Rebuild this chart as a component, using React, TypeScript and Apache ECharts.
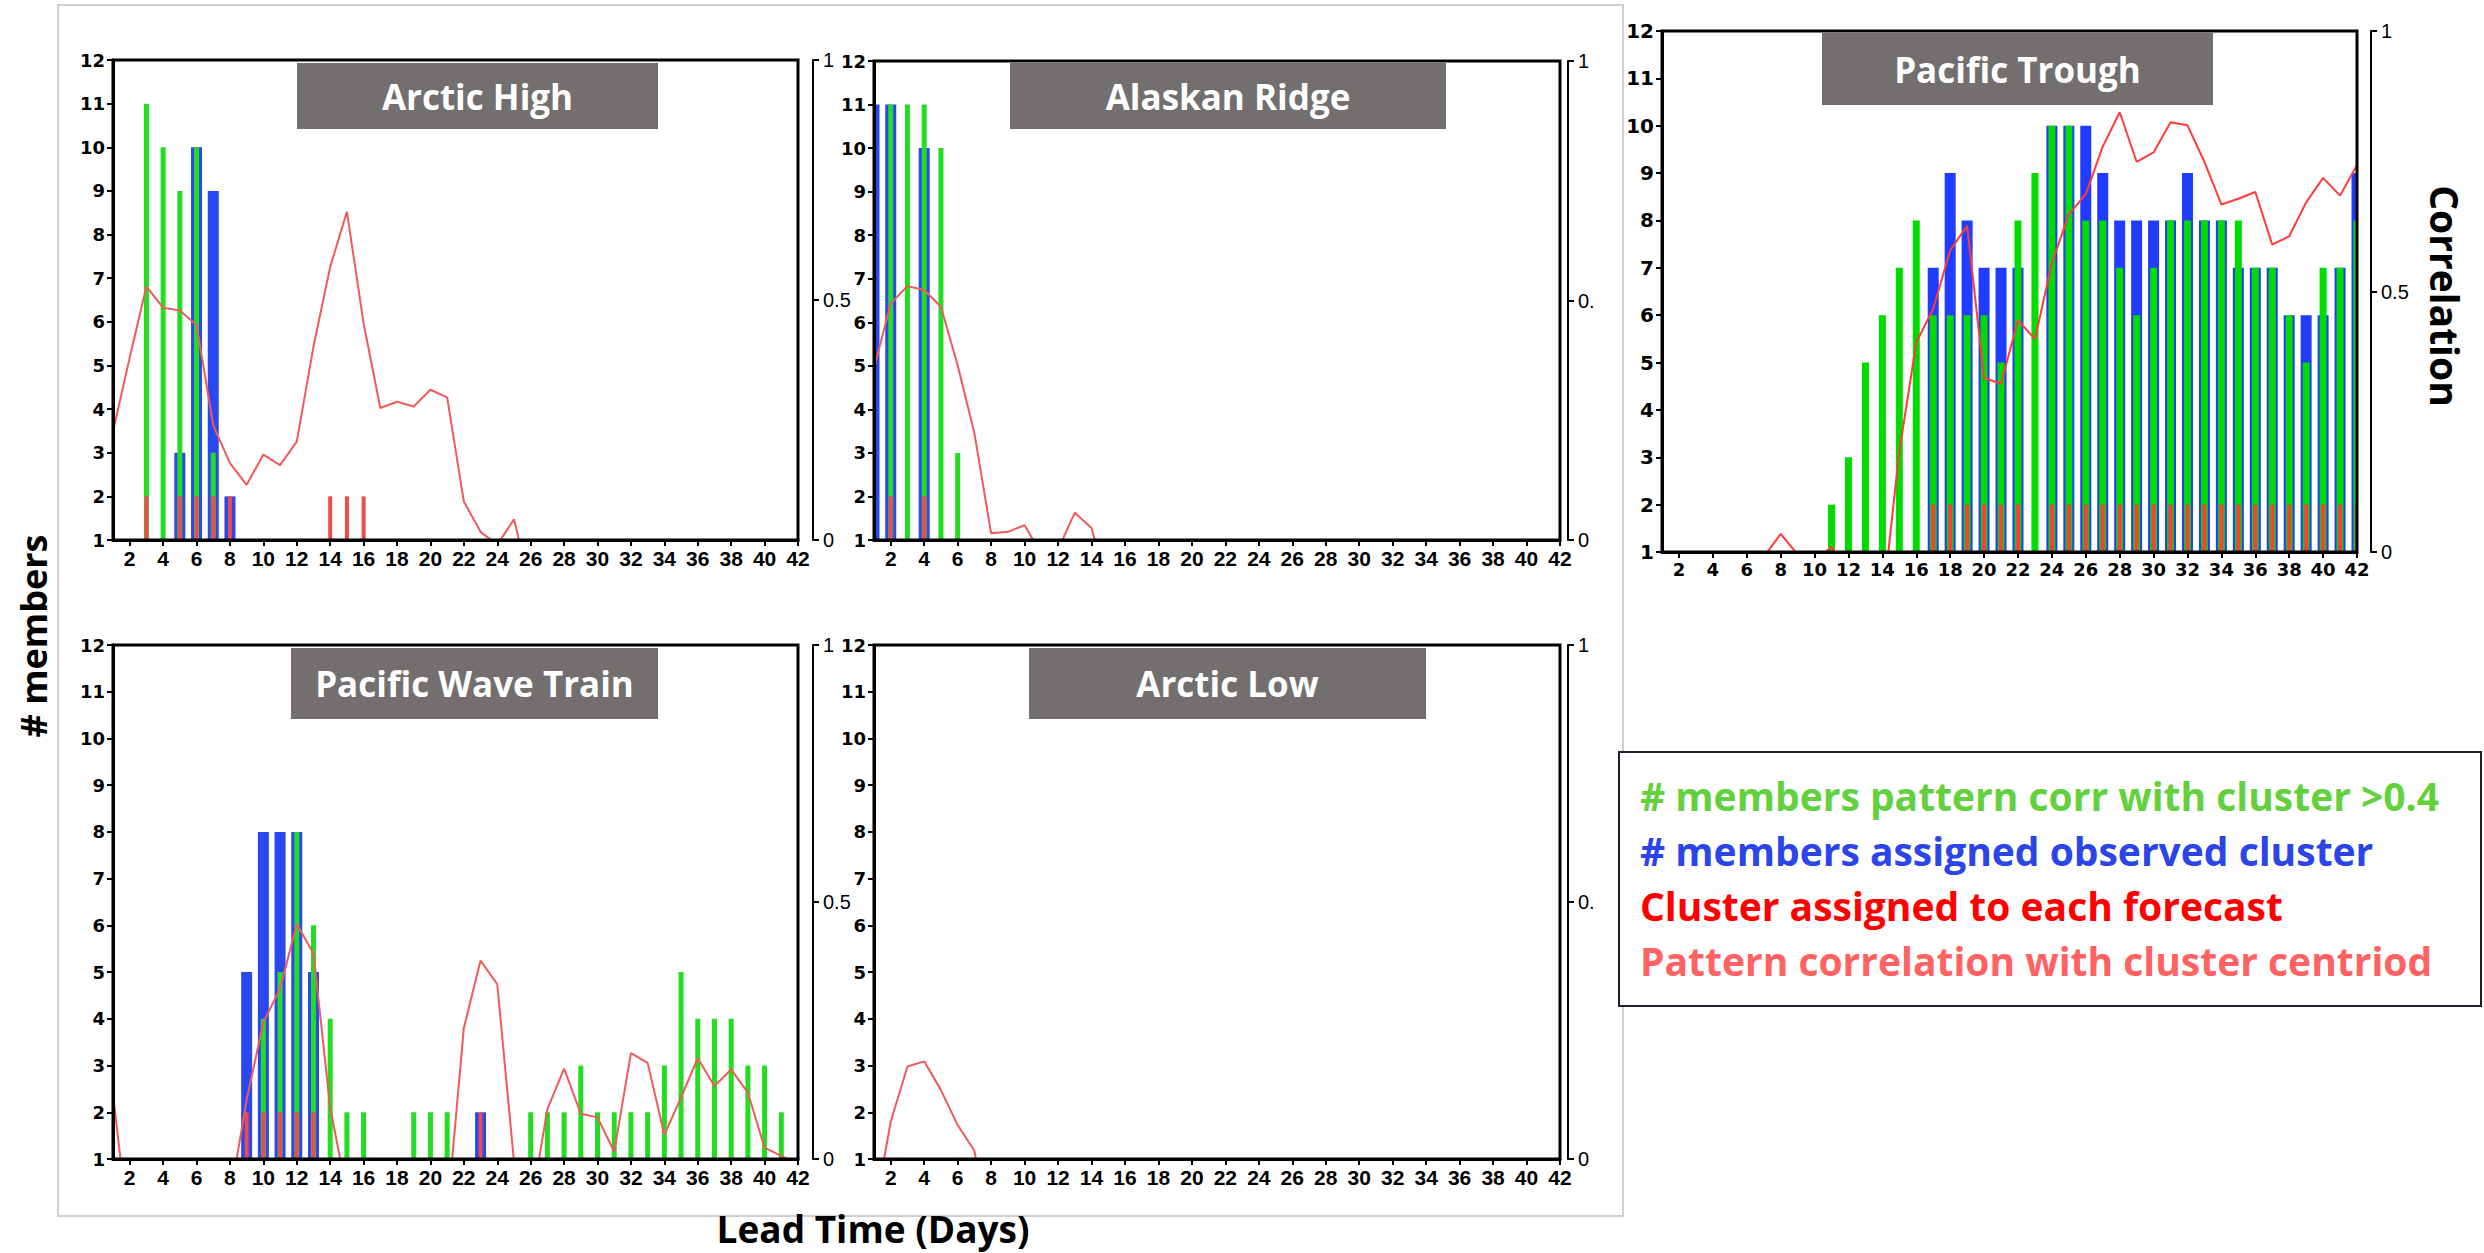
import { useEffect, useRef } from 'react';
import * as echarts from 'echarts';

// ---------- data ----------
const DAYS = ['1','2','3','4','5','6','7','8','9','10','11','12','13','14','15','16','17','18','19','20','21','22','23','24','25','26','27','28','29','30','31','32','33','34','35','36','37','38','39','40','41','42'];
const RED_LEVEL = 2;

const TITLES = ['Arctic High', 'Alaskan Ridge', 'Pacific Trough', 'Pacific Wave Train', 'Arctic Low'];

// [day, members]
const AH_GREEN = [[3, 11], [4, 10], [5, 9], [6, 10], [7, 3]];
const AH_BLUE = [[5, 3], [6, 10], [7, 9], [8, 2]];
const AH_RED_DAYS = [3, 5, 6, 7, 8, 14, 15, 16];
const AH_CORR = [0.226, 0.38, 0.528, 0.484, 0.478, 0.448, 0.239, 0.16, 0.115, 0.178, 0.156, 0.205, 0.403, 0.569, 0.684, 0.451, 0.275, 0.288, 0.278, 0.313, 0.297, 0.08, 0.017, -0.01, 0.043, -0.1];

const AR_GREEN = [[2, 11], [3, 11], [4, 11], [5, 10], [6, 3]];
const AR_BLUE = [[1, 11], [2, 11], [4, 10]];
const AR_RED_DAYS = [2, 4];
const AR_CORR = [0.358, 0.494, 0.53, 0.522, 0.487, 0.365, 0.223, 0.014, 0.017, 0.031, -0.03, -0.02, 0.057, 0.025, -0.1];

const PT_GREEN = [[11, 2], [12, 3], [13, 5], [14, 6], [15, 7], [16, 8], [17, 6], [18, 6], [19, 6], [20, 6], [21, 5], [22, 8], [23, 9], [24, 10], [25, 10], [26, 8], [27, 8], [28, 7], [29, 6], [30, 7], [31, 8], [32, 8], [33, 8], [34, 8], [35, 8], [36, 7], [37, 7], [38, 6], [39, 5], [40, 7], [41, 7], [42, 8]];
const PT_BLUE = [[17, 7], [18, 9], [19, 8], [20, 7], [21, 7], [22, 7], [24, 10], [25, 10], [26, 10], [27, 9], [28, 8], [29, 8], [30, 8], [31, 8], [32, 9], [33, 8], [34, 8], [35, 7], [36, 7], [37, 7], [38, 6], [39, 6], [40, 6], [41, 7], [42, 9]];
const PT_RED_DAYS = [17, 18, 19, 20, 21, 22, 24, 25, 26, 27, 28, 29, 30, 31, 32, 33, 34, 35, 36, 37, 38, 39, 40, 41, 42];
const PT_CORR = [-0.1, -0.1, -0.1, -0.1, -0.1, -0.1, -0.01, 0.035, -0.005, -0.02, 0.01, -0.05, -0.15, -0.104, 0.193, 0.402, 0.467, 0.579, 0.626, 0.334, 0.323, 0.445, 0.409, 0.554, 0.648, 0.687, 0.778, 0.844, 0.749, 0.767, 0.825, 0.819, 0.749, 0.667, 0.678, 0.691, 0.59, 0.606, 0.671, 0.718, 0.684, 0.743];

const WT_GREEN = [[10, 4], [11, 5], [12, 8], [13, 6], [14, 4], [15, 2], [16, 2], [19, 2], [20, 2], [21, 2], [26, 2], [27, 2], [28, 2], [29, 3], [30, 2], [31, 2], [32, 2], [33, 2], [34, 3], [35, 5], [36, 4], [37, 4], [38, 4], [39, 3], [40, 3], [41, 2]];
const WT_BLUE = [[9, 5], [10, 8], [11, 8], [12, 8], [13, 5], [23, 2]];
const WT_RED_DAYS = [9, 10, 11, 12, 13, 23];
const WT_CORR = [0.126, -0.154, -0.2, -0.2, -0.2, -0.2, -0.2, -0.077, 0.115, 0.266, 0.331, 0.457, 0.4, 0.1, -0.067, -0.2, -0.2, -0.2, -0.2, -0.2, -0.109, 0.255, 0.386, 0.34, -0.005, -0.097, 0.097, 0.176, 0.088, 0.081, 0.014, 0.206, 0.187, 0.047, 0.12, 0.196, 0.142, 0.174, 0.129, 0.022, 0.006, -0.01];

const AL_GREEN: number[][] = [];
const AL_BLUE: number[][] = [];
const AL_RED_DAYS: number[] = [];
const AL_CORR = [-0.11, 0.073, 0.18, 0.19, 0.134, 0.066, 0.016, -0.15];

const Y_TICKS_MEMBERS = [1, 12];
const Y_TICKS_CORR = [0, 1];

const LEGEND_TEXTS = [
  '# members pattern corr with cluster >0.4',
  '# members assigned observed cluster',
  'Cluster assigned to each forecast',
  'Pattern correlation with cluster centriod',
];

// ---------- helpers ----------
const expandPairs = (pairs: number[][]) =>
  DAYS.map((d) => {
    const p = pairs.find((q) => q[0] === Number(d));
    return p ? p[1] : null;
  });
const expandDays = (days: number[]) => DAYS.map((d) => (days.includes(Number(d)) ? RED_LEVEL : null));
const expandSeries = (vals: number[]) => DAYS.map((_, i) => (i < vals.length ? vals[i] : null));

const PANEL_DATA = [
  { green: AH_GREEN, blue: AH_BLUE, red: AH_RED_DAYS, corr: AH_CORR },
  { green: AR_GREEN, blue: AR_BLUE, red: AR_RED_DAYS, corr: AR_CORR },
  { green: PT_GREEN, blue: PT_BLUE, red: PT_RED_DAYS, corr: PT_CORR },
  { green: WT_GREEN, blue: WT_BLUE, red: WT_RED_DAYS, corr: WT_CORR },
  { green: AL_GREEN, blue: AL_BLUE, red: AL_RED_DAYS, corr: AL_CORR },
];

// ---------- layout / style ----------
const NARROW = '"Liberation Sans Narrow", "Liberation Sans", Arial, sans-serif';
const LAYOUT = [
  { left: 113, top: 60, width: 685, height: 480, rOff: 15, box: [297, 63, 361, 66], pt: false },
  { left: 874, top: 61, width: 686, height: 479, rOff: 8, box: [1010, 63, 436, 66], pt: false },
  { left: 1662, top: 31, width: 695, height: 521, rOff: 14, box: [1822, 33, 391, 72], pt: true },
  { left: 113, top: 645, width: 685, height: 514, rOff: 15, box: [291, 648, 367, 71], pt: false },
  { left: 874, top: 645, width: 686, height: 514, rOff: 8, box: [1029, 648, 397, 71], pt: false },
];

const TEXT_MID = { textAlign: 'center', textVerticalAlign: 'middle', align: 'center', verticalAlign: 'middle' };

function buildOption() {
  const grid: any[] = [];
  const xAxis: any[] = [];
  const yAxis: any[] = [];
  const series: any[] = [];
  const graphic: any[] = [];
  const evenLabel = (idx: number) => idx % 2 === 1;

  graphic.push({
    type: 'rect', z: 0,
    shape: { x: 58, y: 5, width: 1565, height: 1211 },
    style: { fill: 'none', stroke: '#cfcfcf', lineWidth: 2 },
  });
  // the original image of the left figure is cropped just after the right-axis labels
  graphic.push({ type: 'rect', z: 6, shape: { x: 1594, y: 20, width: 25, height: 1180 }, style: { fill: '#fff' } });

  LAYOUT.forEach((L, i) => {
    const d = PANEL_DATA[i];
    const green = L.pt ? '#00dc00' : '#22dd22';
    const blue = L.pt ? '#1f3cff' : '#2a48f0';
    const red = L.pt ? '#ff3b3b' : '#ec4c4c';
    const lineCol = L.pt ? '#ff3b3b' : '#f05a5a';
    grid.push({
      left: L.left, top: L.top, width: L.width, height: L.height, z: 3,
      show: true, borderColor: '#000', borderWidth: 3, backgroundColor: 'transparent',
    });
    xAxis.push({
      gridIndex: i, type: 'category', data: DAYS, boundaryGap: false, z: 3,
      axisLine: { show: true, onZero: false, lineStyle: { color: '#000', width: 3 } },
      axisTick: { show: true, interval: evenLabel, length: 6, lineStyle: { color: '#000', width: 2 } },
      axisLabel: {
        interval: evenLabel, color: '#000', fontWeight: 'bold', margin: 8,
        fontSize: L.pt ? 18 : 21, fontFamily: L.pt ? 'DejaVu Sans' : NARROW,
      },
      splitLine: { show: false },
    });
    xAxis.push({ gridIndex: i, type: 'category', data: DAYS, boundaryGap: false, show: false });
    xAxis.push({ gridIndex: i, type: 'category', data: DAYS, boundaryGap: false, show: false });
    yAxis.push({
      gridIndex: i, type: 'value', min: Y_TICKS_MEMBERS[0], max: Y_TICKS_MEMBERS[1], interval: 1, z: 3,
      axisLine: { show: true, onZero: false, lineStyle: { color: '#000', width: 3 } },
      axisTick: { show: true, length: 6, lineStyle: { color: '#000', width: 2 } },
      axisLabel: { color: '#000', fontWeight: 'bold', fontSize: L.pt ? 20 : 18, fontFamily: 'DejaVu Sans', margin: 8 },
      splitLine: { show: false },
    });
    yAxis.push({
      gridIndex: i, type: 'value', position: 'right', offset: L.rOff, z: 3,
      min: Y_TICKS_CORR[0], max: Y_TICKS_CORR[1], interval: 0.5,
      axisLine: { show: true, onZero: false, lineStyle: { color: '#000', width: 2 } },
      axisTick: { show: true, length: 6, lineStyle: { color: '#000', width: 2 } },
      axisLabel: { color: '#000', fontSize: 20, fontFamily: 'Liberation Sans', margin: 10, formatter: (v: number) => String(v) },
      splitLine: { show: false },
    });
    series.push({
      type: 'bar', xAxisIndex: 3 * i + 1, yAxisIndex: 2 * i, data: expandPairs(d.blue), z: 1,
      barWidth: 11, itemStyle: { color: blue }, clip: true, silent: true,
    });
    series.push({
      type: 'bar', xAxisIndex: 3 * i + 2, yAxisIndex: 2 * i, data: expandPairs(d.green), z: 1,
      barWidth: L.pt ? 7 : 5, itemStyle: { color: green }, clip: true, silent: true,
    });
    series.push({
      type: 'bar', xAxisIndex: 3 * i, yAxisIndex: 2 * i, data: expandDays(d.red), z: 1,
      barWidth: 4, itemStyle: { color: red }, clip: true, silent: true,
    });
    series.push({
      type: 'line', xAxisIndex: 3 * i, yAxisIndex: 2 * i + 1, data: expandSeries(d.corr), z: 1,
      showSymbol: false, symbol: 'none', clip: true, connectNulls: false, silent: true,
      lineStyle: { color: lineCol, width: 2 },
    });
    // masks so that bars at the first and last day are cut at the frame
    graphic.push({ type: 'rect', z: 2, shape: { x: L.left - 7, y: L.top, width: 7, height: L.height }, style: { fill: '#fff' } });
    graphic.push({ type: 'rect', z: 2, shape: { x: L.left + L.width, y: L.top, width: 7, height: L.height }, style: { fill: '#fff' } });

    const [bx, by, bw, bh] = L.box;
    graphic.push({
      type: 'rect', z: 20, shape: { x: bx, y: by, width: bw, height: bh },
      style: { fill: '#736f6e' },
    });
    graphic.push({
      type: 'text', z: 21, x: bx + bw / 2, y: by + bh / 2,
      style: { text: TITLES[i], fill: '#fff', fontSize: 35, fontWeight: 'bold', fontFamily: 'Open Sans', ...TEXT_MID },
    });
  });

  // axis titles
  graphic.push({
    type: 'text', z: 21, x: 33, y: 636, rotation: Math.PI / 2,
    style: { text: '# members', fill: '#000', fontSize: 36, fontWeight: 'bold', fontFamily: 'Open Sans', ...TEXT_MID },
  });
  graphic.push({
    type: 'text', z: 21, x: 873, y: 1228,
    style: { text: 'Lead Time (Days)', fill: '#000', fontSize: 37, fontWeight: 'bold', fontFamily: 'Open Sans', ...TEXT_MID },
  });
  graphic.push({
    type: 'text', z: 21, x: 2445, y: 296, rotation: -Math.PI / 2,
    style: { text: 'Correlation', fill: '#000', fontSize: 39, fontWeight: 'bold', fontFamily: 'Open Sans', ...TEXT_MID },
  });

  // legend box
  graphic.push({
    type: 'rect', z: 20, shape: { x: 1619, y: 752, width: 862, height: 254 },
    style: { fill: '#fff', stroke: '#1e1e2a', lineWidth: 2 },
  });
  const legendColors = ['#63d13e', '#2b45e8', '#ff0000', '#ff6262'];
  const legendY = [795, 850, 905, 960];
  LEGEND_TEXTS.forEach((t, k) => {
    graphic.push({
      type: 'text', z: 21, x: 1640, y: legendY[k],
      style: { text: t, fill: legendColors[k], fontSize: 39, fontWeight: 'bold', fontFamily: 'Open Sans',
        textAlign: 'left', textVerticalAlign: 'middle', align: 'left', verticalAlign: 'middle' },
    });
  });

  return { animation: false, backgroundColor: '#fff', grid, xAxis, yAxis, series, graphic };
}

export default function App() {
  const ref = useRef<HTMLDivElement>(null);
  useEffect(() => {
    const chart = echarts.init(ref.current as HTMLDivElement, null, { renderer: 'svg' });
    chart.setOption(buildOption() as any);
    return () => chart.dispose();
  }, []);
  return (
    <div
      ref={ref}
      style={{ position: 'absolute', left: 0, top: 0, width: 2484, height: 1253, background: '#fff' }}
    />
  );
}
